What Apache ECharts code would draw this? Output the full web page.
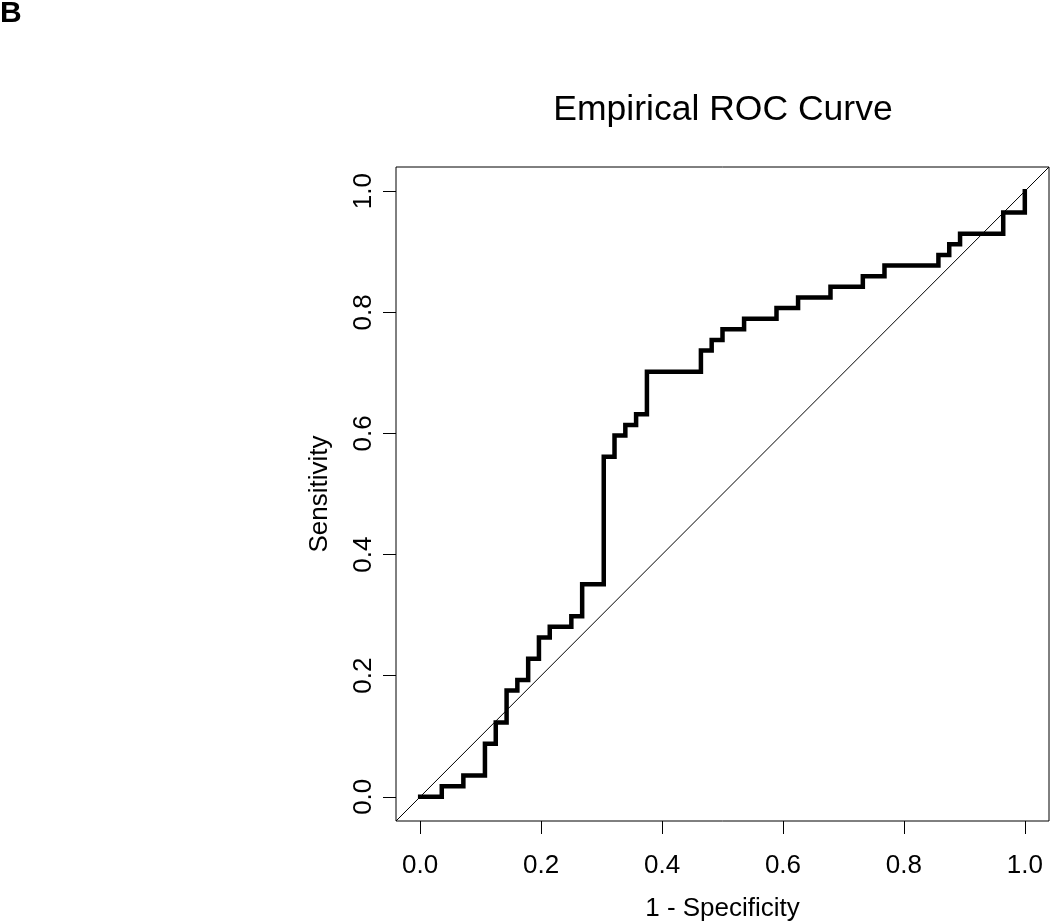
<!DOCTYPE html>
<html>
<head>
<meta charset="utf-8">
<script src="https://cdn.jsdelivr.net/npm/echarts@6/dist/echarts.min.js"></script>
<style>
html,body{margin:0;padding:0;background:#fff;}
#chart{width:1050px;height:921px;}
</style>
</head>
<body>
<div id="chart"></div>
<script>
// Empirical ROC curve vertices (1 - Specificity, Sensitivity)
const fpr = [0, 0.0357, 0.0357, 0.0714, 0.0714, 0.1071, 0.1071, 0.125, 0.125, 0.1429, 0.1429,
  0.1607, 0.1607, 0.1786, 0.1786, 0.1964, 0.1964, 0.2143, 0.2143, 0.25, 0.25, 0.2679, 0.2679,
  0.3036, 0.3036, 0.3214, 0.3214, 0.3393, 0.3393, 0.3571, 0.3571, 0.375, 0.375, 0.4643, 0.4643,
  0.4821, 0.4821, 0.5, 0.5, 0.5357, 0.5357, 0.5893, 0.5893, 0.625, 0.625, 0.6786, 0.6786,
  0.7321, 0.7321, 0.7679, 0.7679, 0.8571, 0.8571, 0.875, 0.875, 0.8929, 0.8929, 0.9643, 0.9643, 1, 1];
const tpr = [0, 0, 0.0175, 0.0175, 0.0351, 0.0351, 0.0877, 0.0877, 0.1228, 0.1228, 0.1754,
  0.1754, 0.193, 0.193, 0.2281, 0.2281, 0.2632, 0.2632, 0.2807, 0.2807, 0.2982, 0.2982, 0.3509,
  0.3509, 0.5614, 0.5614, 0.5965, 0.5965, 0.614, 0.614, 0.6316, 0.6316, 0.7018, 0.7018, 0.7368,
  0.7368, 0.7544, 0.7544, 0.7719, 0.7719, 0.7895, 0.7895, 0.807, 0.807, 0.8246, 0.8246, 0.8421,
  0.8421, 0.8596, 0.8596, 0.8772, 0.8772, 0.8947, 0.8947, 0.9123, 0.9123, 0.9298, 0.9298, 0.9649, 0.9649, 1];
// Reference diagonal (abline through the whole plot region)
const diagX = [-0.04, 1.04];
const diagY = [-0.04, 1.04];
const tickValues = [0, 0.2, 0.4, 0.6, 0.8, 1.0];
const axisMin = -0.04, axisMax = 1.04;
const chartTitle = 'Empirical ROC Curve';
const panelLabel = 'B';
const xName = '1 - Specificity';
const yName = 'Sensitivity';

const font = 'Liberation Sans, Arial, Helvetica, sans-serif';
const chart = echarts.init(document.getElementById('chart'), null, {renderer: 'canvas'});
const curve = fpr.map((x, i) => [x, tpr[i]]);
const diag = diagX.map((x, i) => [x, diagY[i]]);

chart.setOption({
  animation: false,
  backgroundColor: '#fff',
  title: [
    {text: panelLabel, left: -5, top: -6, textStyle: {fontFamily: font, fontWeight: 'bold', fontSize: 30, color: '#000'}},
    {text: chartTitle, left: 718, top: 87, textAlign: 'center', textStyle: {fontFamily: font, fontWeight: 'normal', fontSize: 35.5, color: '#000'}}
  ],
  grid: {left: 396, right: 1, top: 167, bottom: 100, show: true, borderColor: '#000', borderWidth: 1,
         backgroundColor: 'transparent', containLabel: false, outerBoundsMode: 'none'},
  xAxis: {
    type: 'value', min: axisMin, max: axisMax,
    axisLine: {show: false, onZero: false},
    splitLine: {show: false},
    axisTick: {show: true, length: 13, inside: false, customValues: tickValues, lineStyle: {color: '#000', width: 1}},
    axisLabel: {customValues: tickValues, formatter: v => v.toFixed(1), fontFamily: font, fontSize: 26, color: '#000', margin: 32},
    name: xName, nameLocation: 'middle', nameGap: 75,
    nameTextStyle: {fontFamily: font, fontSize: 26, color: '#000'}
  },
  yAxis: {
    type: 'value', min: axisMin, max: axisMax,
    axisLine: {show: false, onZero: false},
    splitLine: {show: false},
    axisTick: {show: true, length: 13, inside: false, customValues: tickValues, lineStyle: {color: '#000', width: 1}},
    axisLabel: {customValues: tickValues, formatter: v => v.toFixed(1), rotate: 90, fontFamily: font, fontSize: 26, color: '#000', margin: 19},
    name: yName, nameLocation: 'middle', nameGap: 63, nameRotate: 90,
    nameTextStyle: {fontFamily: font, fontSize: 26, color: '#000'}
  },
  series: [
    {type: 'line', data: diag, symbol: 'none', silent: true, clip: true,
     lineStyle: {color: '#000', width: 1}},
    {type: 'line', data: curve, symbol: 'none', silent: true, clip: false,
     lineStyle: {color: '#000', width: 4.5, join: 'miter', cap: 'square'}}
  ]
});
</script>
</body>
</html>
